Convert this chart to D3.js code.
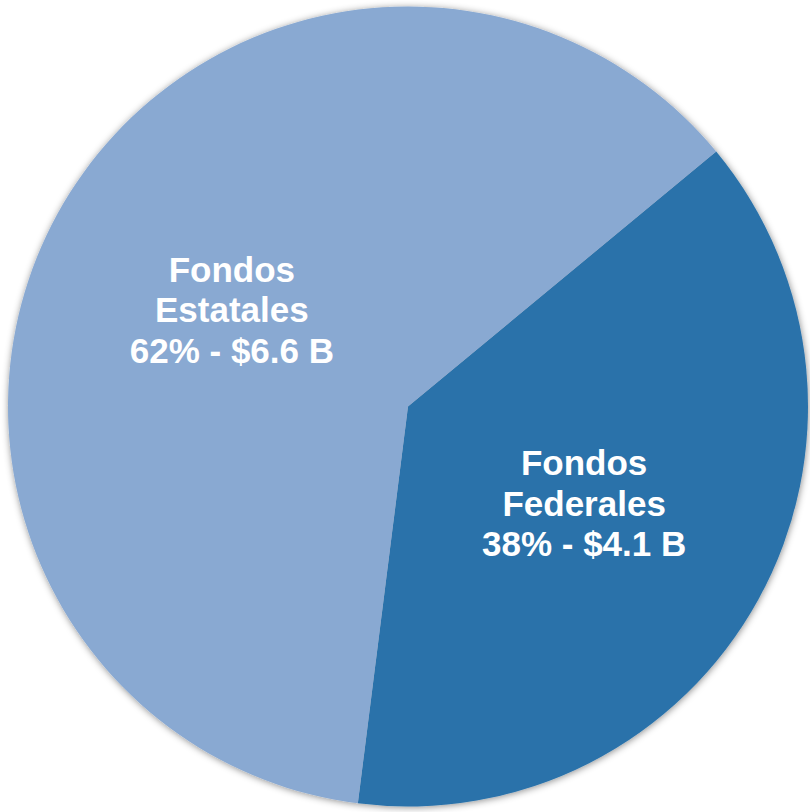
<!DOCTYPE html>
<html>
<head>
<meta charset="utf-8">
<script src="https://cdn.jsdelivr.net/npm/d3@7"></script>
<style>
  html, body { margin: 0; padding: 0; background: #ffffff; }
  svg { display: block; }
</style>
</head>
<body>
<svg id="chart" width="810" height="812"></svg>
<script>
const categories = ["Fondos Federales", "Fondos Estatales"];
const labelLines = [["Fondos", "Federales"], ["Fondos", "Estatales"]];
const percents = [38, 62];
const amounts = ["$4.1 B", "$6.6 B"];
const colors = ["#2a72aa", "#89a9d2"];

const W = 810, H = 812;
const cx = 408, cy = 406.5, R = 400;
const start = 50.4 * Math.PI / 180;

const svg = d3.select("#chart");
const defs = svg.append("defs");
const f = defs.append("filter").attr("id", "sh")
  .attr("x", "-10%").attr("y", "-10%").attr("width", "120%").attr("height", "120%");
f.append("feDropShadow").attr("dx", 0.5).attr("dy", 1).attr("stdDeviation", 3.5)
  .attr("flood-color", "#000").attr("flood-opacity", 0.45);

const data = categories.map((c, i) => ({ c, i, p: percents[i], a: amounts[i] }));
const pie = d3.pie().sort(null).value(d => d.p).startAngle(start).endAngle(start + 2 * Math.PI);
const arcs = pie(data);
const arc = d3.arc().innerRadius(0).outerRadius(R);
const labelArc = d3.arc().innerRadius(201).outerRadius(201);

const g = svg.append("g").attr("transform", `translate(${cx},${cy})`);
const slices = g.append("g").attr("filter", "url(#sh)");
slices.selectAll("path").data(arcs).join("path")
  .attr("d", arc)
  .attr("fill", d => colors[d.data.i]);

const lh = 40.5;
const lab = g.selectAll("text.lbl").data(arcs).join("text")
  .attr("class", "lbl")
  .attr("transform", d => { const [x, y] = labelArc.centroid(d); return `translate(${x},${y})`; })
  .attr("text-anchor", "middle")
  .attr("fill", "#ffffff")
  .attr("font-family", "'Liberation Sans', Arial, sans-serif")
  .attr("font-weight", "bold")
  .attr("font-size", "35px");
lab.each(function(d) {
  const lines = labelLines[d.data.i].concat([`${d.data.p}% - ${d.data.a}`]);
  const t = d3.select(this);
  lines.forEach((s, k) => {
    t.append("tspan").attr("x", 0).attr("y", (k - 1) * lh + 12.5).text(s);
  });
});
</script>
</body>
</html>
